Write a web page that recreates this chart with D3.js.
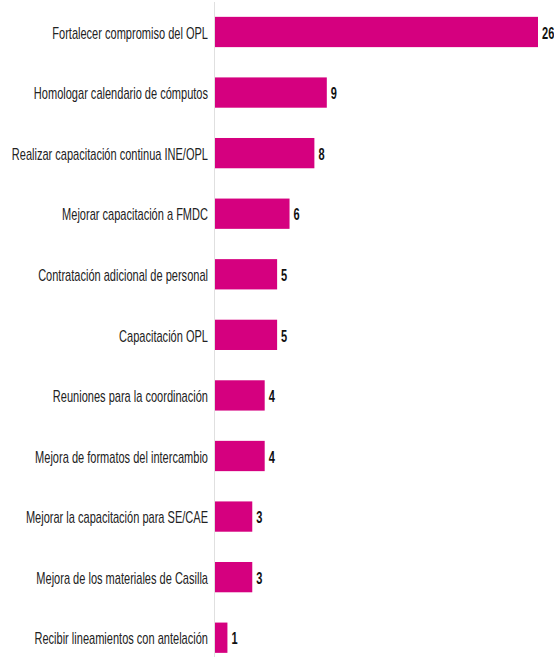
<!DOCTYPE html>
<html><head><meta charset="utf-8">
<script src="https://cdn.jsdelivr.net/npm/d3@7"></script>
<style>body{margin:0;background:#fff;overflow:hidden}</style>
</head><body>
<svg id="c" width="554" height="657"></svg>
<script>
const categories = [
  "Fortalecer compromiso del OPL",
  "Homologar calendario de cómputos",
  "Realizar capacitación continua INE/OPL",
  "Mejorar capacitación a FMDC",
  "Contratación adicional de personal",
  "Capacitación OPL",
  "Reuniones para la coordinación",
  "Mejora de formatos del intercambio",
  "Mejorar la capacitación para SE/CAE",
  "Mejora de los materiales de Casilla",
  "Recibir lineamientos con antelación"
];
const values = [26, 9, 8, 6, 5, 5, 4, 4, 3, 3, 1];

const svg = d3.select("#c");
const font = "'Liberation Sans', Arial, sans-serif";
const sx = 0.69;
const x0 = 215;
const x = d3.scaleLinear().domain([0, 26]).range([x0, 538]);
const y = d3.scaleBand().domain(categories).range([1.7, 668]).paddingInner(0.5).paddingOuter(0.25);

svg.append("line").attr("x1", x0 - 0.5).attr("x2", x0 - 0.5).attr("y1", 2).attr("y2", 657)
  .attr("stroke", "#e0e0e0").attr("stroke-width", 1);

const g = svg.append("g");
g.selectAll("rect").data(values).join("rect")
  .attr("x", x0).attr("y", (d, i) => y(categories[i]))
  .attr("width", d => x(d) - x0).attr("height", y.bandwidth())
  .attr("fill", "#d5007f");

g.selectAll("text.lab").data(categories).join("text").attr("class", "lab")
  .attr("transform", d => `translate(${x0 - 7},${y(d) + y.bandwidth() / 2}) scale(${sx},1)`)
  .attr("dy", "0.42em").attr("text-anchor", "end")
  .attr("font-family", font).attr("font-size", 16).attr("fill", "#222")
  .text(d => d);

g.selectAll("text.val").data(values).join("text").attr("class", "val")
  .attr("transform", (d, i) => `translate(${x(d) + 4},${y(categories[i]) + y.bandwidth() / 2}) scale(${sx},1)`)
  .attr("dy", "0.42em")
  .attr("font-family", font).attr("font-size", 16).attr("font-weight", "bold").attr("fill", "#111")
  .text(d => d);
</script>
</body></html>
